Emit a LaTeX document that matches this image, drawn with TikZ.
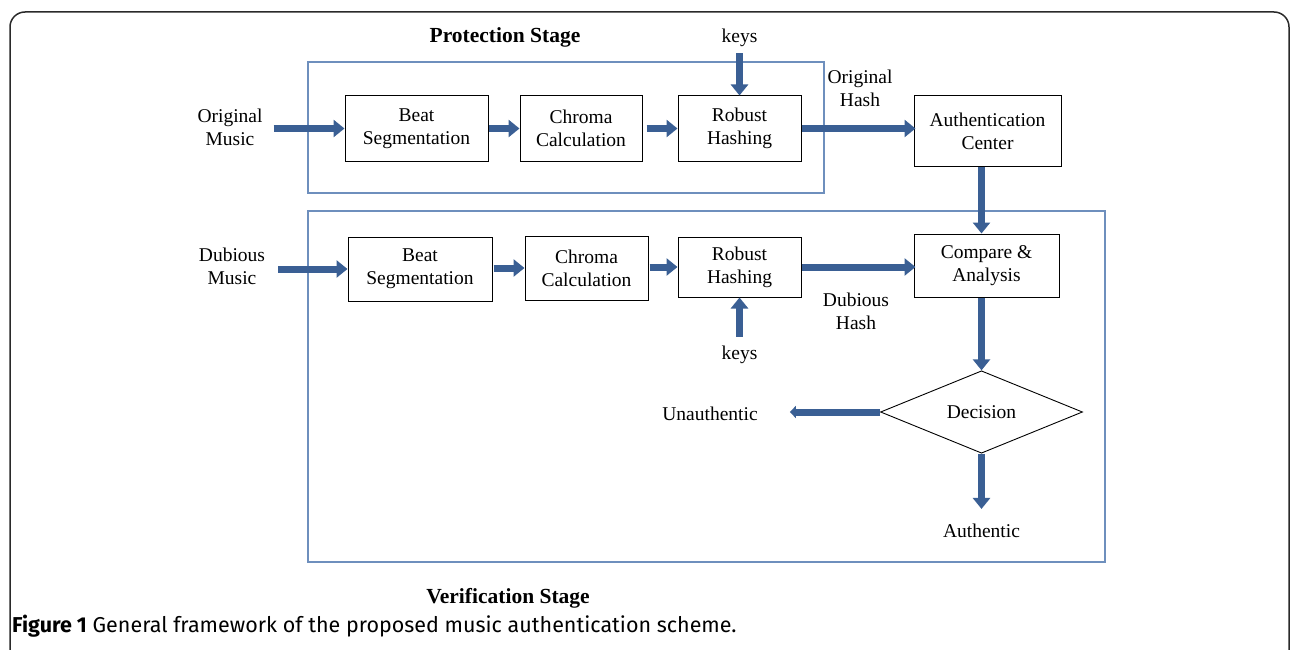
\documentclass[tikz,border=0pt]{standalone}
\usepackage{fontspec}
\setmainfont{Liberation Serif}
\newfontfamily\capfont{Fira Sans}
\usetikzlibrary{arrows.meta,shapes.geometric,calc}
\definecolor{arrowblue}{HTML}{3A5F94}
\definecolor{stageblue}{HTML}{6E8FBD}
\definecolor{framegray}{HTML}{2A2A2A}
\begin{document}
\begin{tikzpicture}[x=1pt,y=-1pt,
  txt/.style={font=\fontsize{19.5}{23}\selectfont},
  box/.style={txt, draw=black, line width=1pt, align=center, inner sep=0pt},
  lbl/.style={txt, align=center, inner sep=1pt},
  stagetitle/.style={font=\fontsize{21.5}{25}\selectfont\bfseries, inner sep=0pt},
  stagebox/.style={draw=stageblue, line width=1.2pt},
  bigarrow/.style={draw=arrowblue, line width=7pt, -{Triangle[width=17pt,length=11pt]}},
  smallarrow/.style={draw=arrowblue, line width=7pt, -{Triangle[width=12pt,length=6pt]}}
]
\useasboundingbox (0,0) rectangle (1290,650);
% outer frame
\draw[framegray, line width=1.5pt, rounded corners=15pt] (10,660) -- (10,12) -- (1289,12) -- (1289,660);

% stage boxes
\draw[stagebox] (308,62) rectangle (824,193);
\draw[stagebox] (308,211) rectangle (1105,562);

% protection stage
\node[stagetitle] (pt) at (505,37) {Protection Stage};
\node[lbl] (om) at (230,127) {Original\\Music};
\node[box, minimum width=143pt, minimum height=65pt] (bs1) at (416.5,128.5) {Beat\\Segmentation};
\node[box, minimum width=122pt, minimum height=65pt] (cc1) at (581,128.5) {Chroma\\Calculation};
\node[box, minimum width=123pt, minimum height=65pt] (rh1) at (739.5,128.5) {Robust\\Hashing};
\node[box, minimum width=147pt, minimum height=70pt] (ac) at (987.5,131) {Authentication\\Center};
\node[lbl] (oh) at (860,88) {Original\\Hash};
\node[lbl] (k1) at (739.5,38) {keys};

% verification stage
\node[lbl] (dm) at (232,266) {Dubious\\Music};
\node[box, minimum width=144pt, minimum height=64pt] (bs2) at (420,269) {Beat\\Segmentation};
\node[box, minimum width=123pt, minimum height=64pt] (cc2) at (586.5,268) {Chroma\\Calculation};
\node[box, minimum width=123pt, minimum height=60pt] (rh2) at (739.5,267) {Robust\\Hashing};
\node[box, minimum width=145pt, minimum height=63pt] (ca) at (986.5,265.5) {Compare \&\\Analysis};
\node[lbl] (dh) at (856,311) {Dubious\\Hash};
\node[lbl] (k2) at (739.5,355) {keys};
\node[diamond, draw=black, line width=0.9pt, minimum width=202pt, minimum height=74pt, inner sep=0pt, txt] (dec) at (981.5,412) {Decision};
\node[lbl] (un) at (710,414) {Unauthentic};
\node[lbl] (au) at (981.5,531) {Authentic};
\node[stagetitle] (vt) at (508,598) {Verification Stage};

% arrows protection
\draw[bigarrow] ($(om.east |- bs1.west)+(10,0)$) -- (bs1.west);
\draw[bigarrow] (bs1.east) -- (cc1.west);
\draw[bigarrow] ([xshift=4pt]cc1.east) -- (rh1.west);
\draw[bigarrow] (rh1.east) -- ([xshift=2pt]ac.west |- rh1.east);
\draw[bigarrow] ($(k1.south)+(0,5)$) -- (rh1.north);
\draw[bigarrow] (ac.south -| dec.north) -- (ca.north -| dec.north);

% arrows verification
\draw[bigarrow] ($(dm.east |- bs2.west)+(12,0)$) -- (bs2.west);
\draw[bigarrow] ([xshift=1pt]bs2.east |- cc2.west) -- (cc2.west);
\draw[bigarrow] ([xshift=1pt]cc2.east |- rh2.west) -- (rh2.west);
\draw[bigarrow] (rh2.east) -- ([xshift=2pt]ca.west |- rh2.east);
\draw[bigarrow] ($(k2.north)+(0,-8)$) -- (rh2.south);
\draw[bigarrow] (ca.south -| dec.north) -- (dec.north);
\draw[smallarrow] (dec.west) -- ([xshift=31pt]un.east |- dec.west);
\draw[bigarrow] (dec.south) -- ($(au.north)+(0,-14)$);

% caption
\node[anchor=west, inner sep=0pt, font=\capfont\fontsize{21.5}{25}\selectfont] (cap) at (12,626) {\textbf{Figure 1} General framework of the proposed music authentication scheme.};
\end{tikzpicture}
\end{document}
